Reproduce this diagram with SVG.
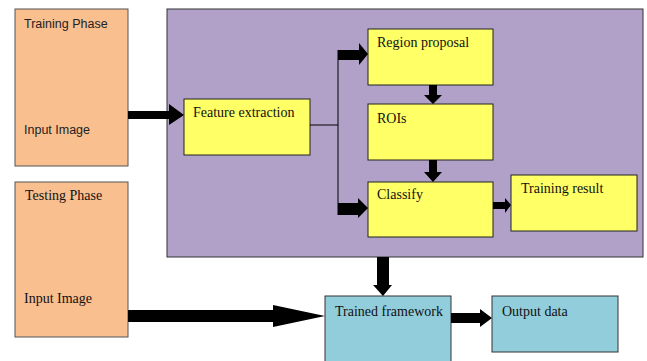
<svg xmlns="http://www.w3.org/2000/svg" width="647" height="361" viewBox="0 0 647 361">
<style>
.orange{fill:#F9BF8F;stroke:#555;stroke-width:1}
.purple{fill:#B1A0C7;stroke:#333;stroke-width:1}
.yellow{fill:#FFFF66;stroke:#222;stroke-width:1}
.blue{fill:#92CDDC;stroke:#333;stroke-width:1}
.sans{font-family:"Liberation Sans",Arial,sans-serif;font-size:12.5px;fill:#222}
.serif{font-family:"Liberation Serif","Times New Roman",serif;font-size:14px;fill:#111}
.arr{fill:#000}
.ln{stroke:#000;stroke-width:1;fill:none}
</style>
<rect width="647" height="361" fill="#fff"/>
<g id="training-phase">
<rect class="orange" x="15" y="9" width="113" height="157"/>
<text class="sans" x="24" y="28">Training Phase</text>
<text class="sans" x="24" y="134">Input Image</text>
</g>
<g id="testing-phase">
<rect class="orange" x="15" y="182" width="113" height="155"/>
<text class="serif" x="25" y="200">Testing Phase</text>
<text class="serif" x="24" y="303">Input Image</text>
</g>
<g id="training-framework">
<rect class="purple" x="167" y="9" width="476" height="248"/>
</g>
<g id="feature-extraction">
<rect class="yellow" x="184" y="99" width="126" height="56"/>
<text class="serif" x="193" y="117">Feature extraction</text>
</g>
<g id="region-proposal">
<rect class="yellow" x="368" y="29" width="125" height="56"/>
<text class="serif" x="377" y="47">Region proposal</text>
</g>
<g id="rois">
<rect class="yellow" x="368" y="104" width="125" height="56"/>
<text class="serif" x="377" y="123">ROIs</text>
</g>
<g id="classify">
<rect class="yellow" x="368" y="182" width="125" height="55"/>
<text class="serif" x="377" y="199">Classify</text>
</g>
<g id="training-result">
<rect class="yellow" x="511" y="175" width="126" height="56"/>
<text class="serif" x="521" y="193">Training result</text>
</g>
<g id="trained-framework">
<rect class="blue" x="325" y="296" width="126" height="70"/>
<text class="serif" x="335" y="316">Trained framework</text>
</g>
<g id="output-data">
<rect class="blue" x="492" y="296" width="126" height="56"/>
<text class="serif" x="502" y="316">Output data</text>
</g>
<g id="connectors">
<polygon class="arr" points="128,111 169,111 169,104 184,115 169,125 169,119 128,119"/>
<path class="ln" d="M310,125 H338 M338,50 V215"/>
<polygon class="arr" points="338,50 359,50 359,43 368,54 359,65 359,60 338,60"/>
<polygon class="arr" points="338,203 358,203 358,198 368,208 358,218 358,215 338,215"/>
<polygon class="arr" points="429,85 437,85 437,95 442,95 433,104 424,95 429,95"/>
<polygon class="arr" points="429,160 437,160 437,172 442,172 433,182 424,172 429,172"/>
<polygon class="arr" points="493,202 505,202 505,198 511,205 505,213 505,209 493,209"/>
<polygon class="arr" points="377,257 389,257 389,285 392,285 383,296 373,285 377,285"/>
<polygon class="arr" points="128,310 273,310 273,305 325,316 273,327 273,322 128,322"/>
<polygon class="arr" points="451,313 480,313 480,309 492,318 480,327 480,323 451,323"/>
</g>
</svg>
